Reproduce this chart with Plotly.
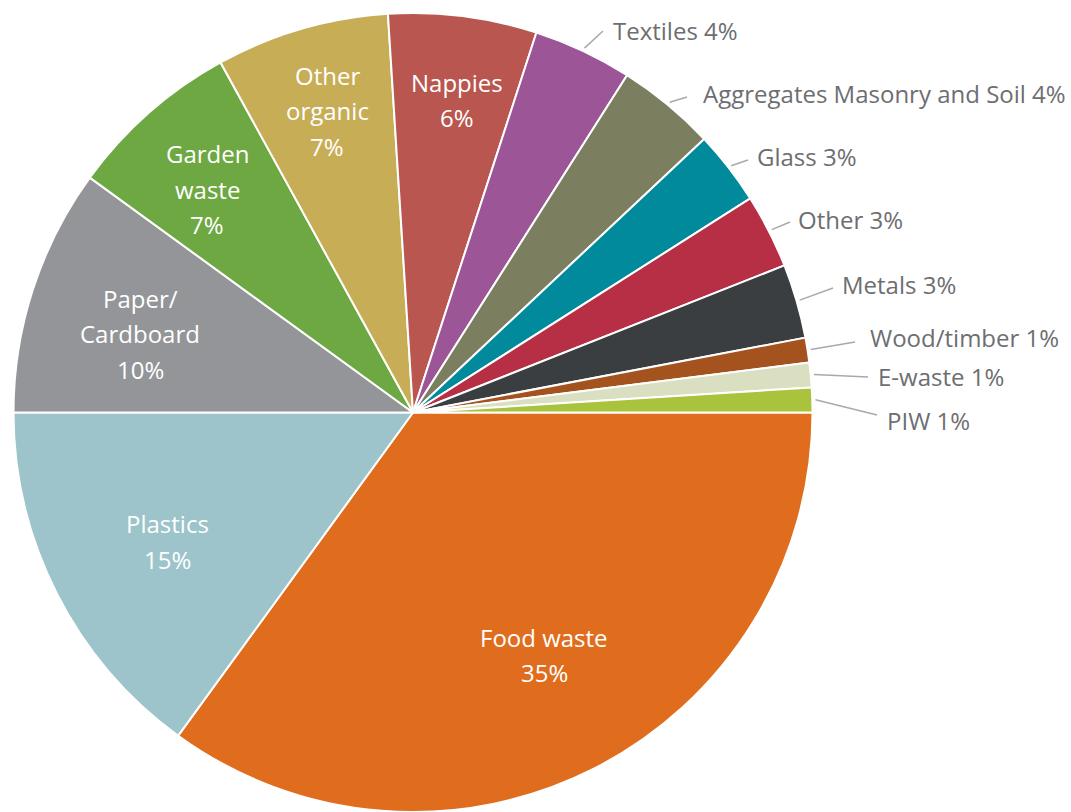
import math
import plotly.graph_objects as go

# Household waste composition (% by weight)
categories = [
    "Food waste", "Plastics", "Paper/Cardboard", "Garden waste", "Other organic",
    "Nappies", "Textiles", "Aggregates Masonry and Soil", "Glass", "Other",
    "Metals", "Wood/timber", "E-waste", "PIW",
]
shares = [35, 15, 10, 7, 7, 6, 4, 4, 3, 3, 3, 1, 1, 1]
colors = [
    "#E06D1E", "#9CC4CA", "#939598", "#6DA843", "#C8AD57",
    "#BA5650", "#9C5596", "#7B7F5F", "#008A9C", "#B72F45",
    "#3A3E40", "#A4531E", "#DADFC2", "#A9C43C",
]

# Labels drawn inside the slice (split over lines) vs. outside with a leader line
inside_breaks = {
    "Paper/Cardboard": ["Paper/", "Cardboard"],
    "Garden waste": ["Garden", "waste"],
    "Other organic": ["Other", "organic"],
}
# inside label placement: (fraction of radius, angular nudge in degrees)
inside_place = {
    "Food waste": (0.69, -1.4),
    "Plastics": (0.695, -0.7),
    "Paper/Cardboard": (0.71, -1.9),
    "Garden waste": (0.76, -1.3),
    "Other organic": (0.785, 0.3),
    "Nappies": (0.79, 0.8),
}
LINE_GAP = 35.5  # px between lines of an inside label

# outside label placement in pixels: (leader end x, y, text x, text y)
outside_place = {
    "Textiles": (603, 31, 611, 30),
    "Aggregates Masonry and Soil": (687, 97, 701, 94),
    "Glass": (748, 160, 755, 157),
    "Other": (790, 222, 796, 220),
    "Metals": (833, 288, 840, 284),
    "Wood/timber": (855, 342, 868, 337),
    "E-waste": (868, 377, 876, 376),
    "PIW": (877, 415, 885, 420),
}

W, H = 1071, 812
TOP = 13
PLOT_H = H - TOP
CX = 413
ROTATION = 90  # first slice starts at 3 o'clock, going clockwise

R = min(2 * CX, PLOT_H) / 2
CY = TOP + PLOT_H / 2


def px_to_paper(x, y):
    return x / W, (H - y) / PLOT_H


def polar_px(angle_deg, radius):
    a = math.radians(angle_deg)
    return CX + radius * math.sin(a), CY - radius * math.cos(a)


font_family = "Open Sans, Noto Sans, sans-serif"

fig = go.Figure(
    go.Pie(
        labels=categories,
        values=shares,
        sort=False,
        direction="clockwise",
        rotation=ROTATION,
        marker=dict(colors=colors, line=dict(color="white", width=2)),
        textinfo="none",
        hoverinfo="label+percent",
        domain=dict(x=[0, 2 * CX / W], y=[0, 1]),
        showlegend=False,
    )
)

annotations = []
shapes = []
total = sum(shares)
start = ROTATION
for name, value in zip(categories, shares):
    sweep = 360 * value / total
    mid = start + sweep / 2
    start += sweep
    if name in inside_place:
        frac, nudge = inside_place[name]
        x, y = polar_px(mid + nudge, R * frac)
        lines = inside_breaks.get(name, [name]) + [f"{value}%"]
        first = y - LINE_GAP * (len(lines) - 1) / 2
        for i, line in enumerate(lines):
            px, py = px_to_paper(x, first + i * LINE_GAP)
            annotations.append(dict(
                x=px, y=py, xref="paper", yref="paper",
                text=line,
                showarrow=False, xanchor="center", yanchor="middle", align="center",
                font=dict(family=font_family, size=24, color="white"),
            ))
    else:
        ex, ey, tx, ty = outside_place[name]
        sx, sy = polar_px(mid, R * 1.008)
        x0, y0 = px_to_paper(sx, sy)
        x1, y1 = px_to_paper(ex, ey)
        shapes.append(dict(
            type="line", xref="paper", yref="paper",
            x0=x0, y0=y0, x1=x1, y1=y1,
            line=dict(color="#A7A9AC", width=1.5),
        ))
        lx, ly = px_to_paper(tx, ty)
        annotations.append(dict(
            x=lx, y=ly, xref="paper", yref="paper",
            text=f"{name} {value}%",
            showarrow=False, xanchor="left", yanchor="middle", align="left",
            font=dict(family=font_family, size=24, color="#6D6E71"),
        ))

fig.update_layout(
    width=W,
    height=H,
    margin=dict(l=0, r=0, t=TOP, b=0),
    paper_bgcolor="white",
    plot_bgcolor="white",
    annotations=annotations,
    shapes=shapes,
)

fig.write_html("out.html")
